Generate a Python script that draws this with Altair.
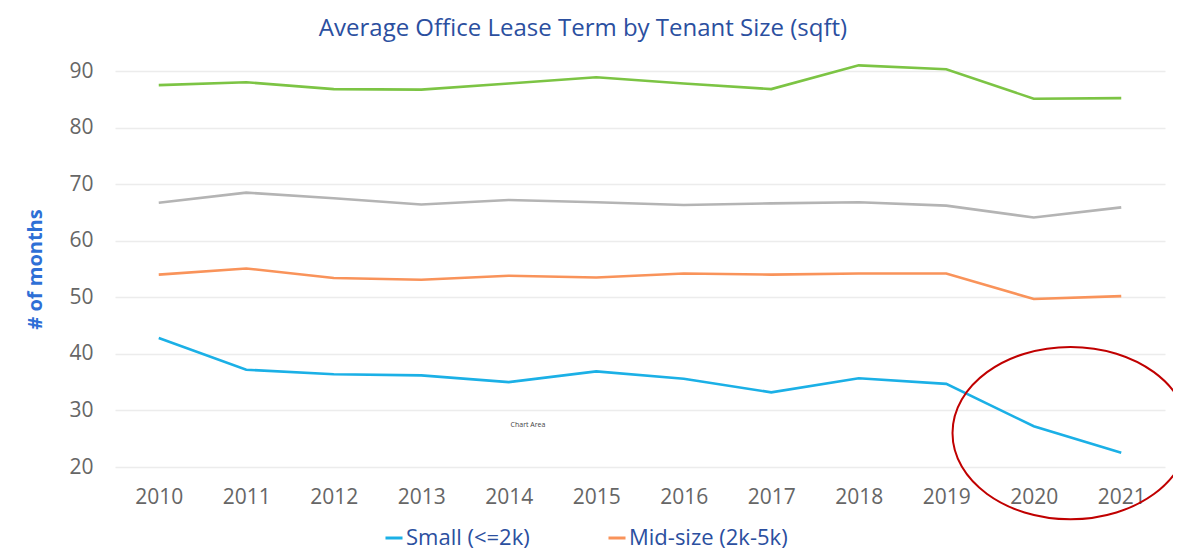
import altair as alt
import pandas as pd

years = list(range(2010, 2022))
small = [42.8, 37.2, 36.4, 36.2, 35.0, 36.9, 35.6, 33.2, 35.7, 34.7, 27.2, 22.5]
mid = [54.0, 55.1, 53.4, 53.1, 53.8, 53.5, 54.2, 54.0, 54.2, 54.2, 49.7, 50.2]
midlarge = [66.7, 68.5, 67.5, 66.4, 67.2, 66.8, 66.3, 66.6, 66.8, 66.2, 64.1, 65.9]
large = [87.5, 88.0, 86.8, 86.7, 87.8, 88.9, 87.8, 86.8, 91.0, 90.3, 85.1, 85.2]

series_names = ["Small (<=2k)", "Mid-size (2k-5k)", "Mid-large (5k-10k)", "Large (>10k)"]
series_colors = ["#1bb0e6", "#f9935a", "#b4b4b4", "#7cc444"]
legend_shown = ["Small (<=2k)", "Mid-size (2k-5k)"]

# annotation (red highlight ellipse and the stray "Chart Area" tooltip)
ellipse_x = [2020.42]
ellipse_y = [26.0]
tip_x = [2014.22]
tip_y = [27.4]
tip_text = ["Chart Area"]

rows = []
for name, vals in zip(series_names, [small, mid, midlarge, large]):
    for yr, v in zip(years, vals):
        rows.append({"Year": yr, "Months": v, "Series": name})
df = pd.DataFrame(rows)

FONT = "Open Sans"

x_enc = alt.X("Year:Q",
              scale=alt.Scale(domain=[2009.5, 2021.5], nice=False, zero=False),
              axis=alt.Axis(values=years, format="d", title=None, grid=False,
                            domain=False, ticks=False, labelPadding=19,
                            labelFontSize=21, labelColor="#666666", labelFont=FONT))
y_enc = alt.Y("Months:Q",
              scale=alt.Scale(domain=[20, 90], nice=False, zero=False),
              axis=alt.Axis(values=[20, 30, 40, 50, 60, 70, 80, 90], title="# of months",
                            titleColor="#2e6fd6", titleFontSize=20, titleFont=FONT,
                            titleFontWeight="bold", titlePadding=23,
                            grid=True, gridColor="#ececec", gridWidth=1.5,
                            domain=False, ticks=False, labelPadding=22,
                            labelFontSize=21, labelColor="#666666", labelFont=FONT))

lines = alt.Chart(df).mark_line(strokeWidth=2.6).encode(
    x=x_enc,
    y=y_enc,
    color=alt.Color("Series:N",
                    scale=alt.Scale(domain=series_names, range=series_colors),
                    sort=series_names,
                    legend=alt.Legend(values=legend_shown, title=None, orient="none",
                                      direction="horizontal", legendX=268, legendY=456,
                                      symbolType="stroke", symbolStrokeWidth=3,
                                      symbolSize=290, labelFontSize=22, labelFont=FONT,
                                      labelColor="#2b4f9f", labelOffset=1,
                                      columnPadding=72)),
    detail="Series:N",
)

ell_df = pd.DataFrame({"Year": ellipse_x, "Months": ellipse_y})
ellipse = alt.Chart(ell_df).mark_point(
    shape="M -1 0 A 1 0.73 0 1 0 1 0 A 1 0.73 0 1 0 -1 0",
    size=236 * 236, filled=False, stroke="#c00000", strokeWidth=2, opacity=1,
).encode(x="Year:Q", y="Months:Q")

tip_df = pd.DataFrame({"Year": tip_x, "Months": tip_y, "t": tip_text})
tip = alt.Chart(tip_df).mark_text(fontSize=7, color="#444444", font=FONT).encode(
    x="Year:Q", y="Months:Q", text="t:N")

chart = alt.layer(lines, ellipse, tip).properties(
    width=1050, height=396,
    autosize=alt.AutoSizeParams(type="none"),
    padding={"left": 107, "top": 63, "right": 8, "bottom": 83},
    title=alt.TitleParams("Average Office Lease Term by Tenant Size (sqft)",
                          font=FONT, fontSize=24, fontWeight="normal",
                          color="#2b4f9f", anchor="middle", dx=-57, offset=19),
).configure_view(stroke=None)

chart.save("out.html", embed_options={"renderer": "svg", "actions": False})
